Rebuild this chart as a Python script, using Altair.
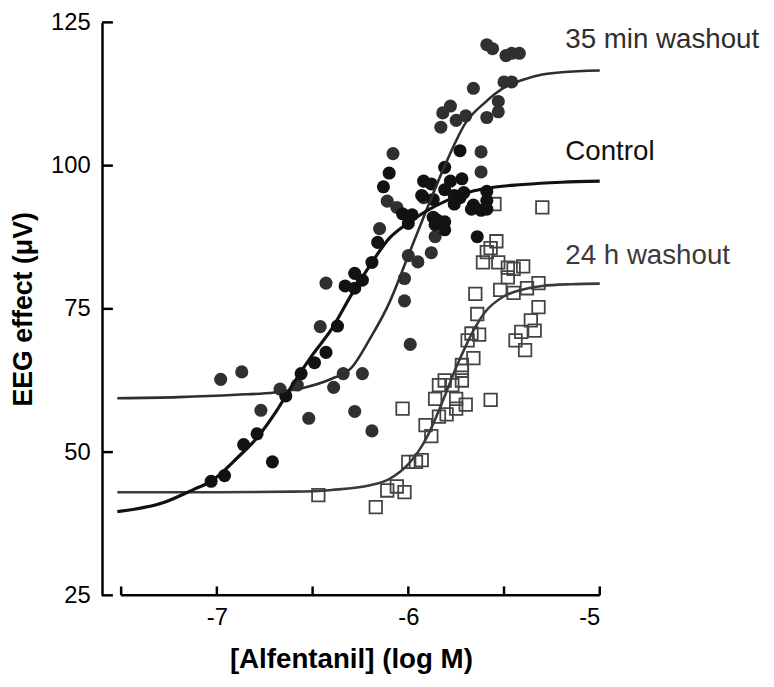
import altair as alt
import pandas as pd

# ---------------- data ----------------
# Control (filled black circles)
ctrl_x = [-7.03, -6.96, -6.86, -6.79, -6.71, -6.64, -6.56, -6.49, -6.43, -6.37,
          -6.33, -6.28, -6.28, -6.24, -6.19, -6.16, -6.13, -6.10, -5.73, -5.81,
          -5.92, -5.88, -5.78, -5.72, -5.93, -5.59, -5.87, -5.81, -5.76, -5.71,
          -5.59, -5.66, -5.76, -5.85, -5.81, -5.87, -6.03, -6.00, -5.81, -5.86,
          -5.62, -5.64, -5.73, -5.67, -5.59, -5.98]
ctrl_y = [44.9, 45.9, 51.3, 53.2, 48.3, 59.8, 63.7, 65.6, 67.4, 72.0,
          79.0, 78.6, 81.2, 80.0, 83.1, 86.6, 96.3, 98.7, 102.6, 99.7,
          97.3, 96.8, 97.3, 97.7, 94.8, 95.5, 94.1, 95.8, 94.8, 95.3,
          93.9, 93.1, 93.3, 90.5, 90.2, 91.0, 91.6, 89.9, 88.8, 89.7,
          92.2, 87.6, 94.4, 92.4, 92.4, 91.4]

# 35 min washout (filled dark-grey circles)
w35_x = [-6.98, -6.87, -6.77, -6.67, -6.58, -6.46, -6.39, -6.34, -6.24, -6.52,
         -6.28, -6.19, -5.99, -6.43, -6.15, -6.11, -6.08, -5.59, -5.56, -5.49,
         -5.46, -5.42, -5.50, -5.46, -5.66, -5.53, -5.53, -5.59, -5.78, -5.82,
         -5.75, -5.70, -5.83, -5.62, -5.62, -5.92, -6.06, -5.86, -5.88, -5.95,
         -6.00, -6.02, -6.02]
w35_y = [62.7, 64.0, 57.3, 61.0, 61.7, 71.9, 61.3, 63.7, 63.7, 55.9,
         57.1, 53.7, 68.8, 79.5, 89.0, 93.8, 102.1, 121.1, 120.4, 119.2,
         119.6, 119.6, 114.6, 114.6, 113.5, 111.2, 109.4, 108.4, 110.4, 109.2,
         107.9, 108.7, 106.7, 102.4, 98.9, 94.4, 92.7, 87.6, 84.8, 83.2,
         84.3, 80.3, 76.4]

# 24 h washout (open squares)
w24_x = [-6.47, -6.17, -6.11, -6.06, -6.02, -6.00, -5.96, -5.93, -5.91, -5.88,
         -6.03, -5.86, -5.84, -5.80, -5.75, -5.70, -5.75, -5.57, -5.84, -5.81,
         -5.77, -5.72, -5.72, -5.72, -5.66, -5.69, -5.63, -5.67, -5.64, -5.65,
         -5.52, -5.45, -5.38, -5.32, -5.48, -5.61, -5.53, -5.48, -5.45, -5.40,
         -5.54, -5.57, -5.59, -5.55, -5.30, -5.32, -5.36, -5.34, -5.41, -5.44,
         -5.39]
w24_y = [42.5, 40.4, 43.3, 44.0, 43.0, 48.3, 48.3, 48.6, 54.7, 52.8,
         57.6, 59.3, 56.2, 56.6, 57.6, 58.3, 59.3, 59.1, 61.7, 62.5,
         61.7, 62.5, 64.2, 65.2, 66.4, 69.5, 70.5, 70.7, 74.1, 77.6,
         78.3, 77.8, 78.6, 79.5, 80.5, 83.1, 83.1, 82.2, 82.0, 82.4,
         86.8, 85.6, 84.9, 93.3, 92.7, 75.3, 73.0, 71.2, 71.0, 69.5,
         67.8]

# fitted curves
ctrl_fit_x = [-7.52, -7.27, -7.12, -7.03, -6.89, -6.79, -6.69, -6.6, -6.5, -6.4,
              -6.3, -6.2, -6.1, -6.0, -5.9, -5.8, -5.7, -5.6, -5.4, -5.2, -5.0]
ctrl_fit_y = [39.6, 41.3, 43.5, 44.9, 49.1, 52.5, 57.1, 62.0, 67.0, 71.5,
              77.3, 82.6, 87.3, 90.0, 92.2, 93.9, 95.2, 96.0, 96.7, 97.1, 97.3]

w35_fit_x = [-7.52, -7.2, -6.9, -6.7, -6.55, -6.4, -6.3, -6.2, -6.1, -6.0,
             -5.9, -5.8, -5.7, -5.6, -5.5, -5.4, -5.3, -5.2, -5.0]
w35_fit_y = [59.4, 59.6, 60.0, 60.4, 61.2, 62.8, 64.6, 69.8, 76.0, 84.3,
             92.7, 100.7, 107.5, 111.0, 113.6, 115.0, 115.9, 116.3, 116.6]

w24_fit_x = [-7.52, -7.0, -6.6, -6.4, -6.2, -6.1, -6.0, -5.95, -5.9, -5.85,
             -5.8, -5.75, -5.7, -5.65, -5.6, -5.5, -5.4, -5.3, -5.15, -5.0]
w24_fit_y = [43.0, 43.0, 43.1, 43.4, 44.2, 45.3, 47.9, 50.0, 52.8, 56.5,
             60.6, 64.8, 68.5, 71.8, 74.4, 77.2, 78.4, 79.0, 79.3, 79.4]

label_text = ["35 min washout", "Control", "24 h washout"]
label_x = [-5.18, -5.18, -5.18]
label_y = [121.9, 102.4, 84.2]
label_color = ["#2e2e2e", "#111111", "#3a3a3a"]

x_ticks = [-7.5, -7.0, -6.5, -6.0, -5.5, -5.0]
x_labels = [-7, -6, -5]
y_ticks = [25, 50, 75, 100, 125]
x_domain = [-7.6, -5.0]
y_domain = [25, 125]

# ---------------- chart ----------------
W, H = 503, 579
FONT = "Liberation Sans"

xs = alt.Scale(domain=x_domain, nice=False, zero=False)
ys = alt.Scale(domain=y_domain, nice=False, zero=False)

xaxis = alt.Axis(values=x_labels, title="[Alfentanil] (log M)", ticks=False,
                 domain=False, grid=False, labelExpr="'' + datum.value",
                 labelFont=FONT, labelFontSize=24, labelColor="black",
                 labelPadding=10, titleFont=FONT, titleFontSize=28,
                 titleFontWeight="bold", titleColor="black", titlePadding=17)
yaxis = alt.Axis(values=y_ticks, title="EEG effect (μV)", ticks=False,
                 domain=True, domainColor="black", domainWidth=2.5, grid=False,
                 labelFont=FONT, labelFontSize=24, labelColor="black",
                 labelPadding=12, titleFont=FONT, titleFontSize=27,
                 titleFontWeight="bold", titleColor="black", titlePadding=13)

X = lambda f: alt.X(f, type="quantitative", scale=xs, axis=xaxis)
Y = lambda f: alt.Y(f, type="quantitative", scale=ys, axis=yaxis)

ctrl_df = pd.DataFrame({"x": ctrl_x, "y": ctrl_y})
w35_df = pd.DataFrame({"x": w35_x, "y": w35_y})
w24_df = pd.DataFrame({"x": w24_x, "y": w24_y})
ctrl_fit = pd.DataFrame({"x": ctrl_fit_x, "y": ctrl_fit_y})
w35_fit = pd.DataFrame({"x": w35_fit_x, "y": w35_fit_y})
w24_fit = pd.DataFrame({"x": w24_fit_x, "y": w24_fit_y})
lab_df = pd.DataFrame({"t": label_text, "x": label_x, "y": label_y, "c": label_color})
xt_df = pd.DataFrame({"v": x_ticks})
yt_df = pd.DataFrame({"v": y_ticks})
xline_df = pd.DataFrame({"a": [x_ticks[0]], "b": [x_ticks[-1]], "y": [y_domain[0]]})

pts_ctrl = alt.Chart(ctrl_df).mark_circle(size=175, opacity=1, color="#121212").encode(x=X("x"), y=Y("y"))
pts_w35 = alt.Chart(w35_df).mark_circle(size=175, opacity=1, color="#303030").encode(x=X("x"), y=Y("y"))
pts_w24 = alt.Chart(w24_df).mark_point(shape="square", filled=False, size=160,
                                       strokeWidth=1.8, color="#444444", opacity=1).encode(x=X("x"), y=Y("y"))

line_ctrl = alt.Chart(ctrl_fit).mark_line(color="#111111", strokeWidth=3.2, interpolate="monotone").encode(x=X("x"), y=Y("y"))
line_w35 = alt.Chart(w35_fit).mark_line(color="#2e2e2e", strokeWidth=2.6, interpolate="monotone").encode(x=X("x"), y=Y("y"))
line_w24 = alt.Chart(w24_fit).mark_line(color="#3a3a3a", strokeWidth=2.6, interpolate="monotone").encode(x=X("x"), y=Y("y"))

labels = alt.Chart(lab_df).mark_text(align="left", baseline="middle", font=FONT,
                                     fontSize=28).encode(
    x=X("x"), y=Y("y"), text="t:N", color=alt.Color("c:N", scale=None))

yticks = alt.Chart(yt_df).mark_rule(color="black", strokeWidth=2.5).encode(
    y=Y("v"), x=alt.value(0), x2=alt.value(11))
xticks = alt.Chart(xt_df).mark_rule(color="black", strokeWidth=2.5).encode(
    x=X("v"), y=alt.value(H), y2=alt.value(H - 9))
xline = alt.Chart(xline_df).mark_rule(color="black", strokeWidth=2.5).encode(
    x=X("a"), x2="b:Q", y=Y("y"))

chart = alt.layer(
    pts_w24, pts_w35, pts_ctrl, line_w24, line_w35, line_ctrl,
    labels, yticks, xticks, xline
).properties(
    width=W, height=H,
    padding={"left": 95, "top": 11, "right": 168, "bottom": 81},
    autosize=alt.AutoSizeParams(type="none"),
).configure_view(strokeWidth=0)

chart.save("out.html", embed_options={"renderer": "svg", "actions": False})
